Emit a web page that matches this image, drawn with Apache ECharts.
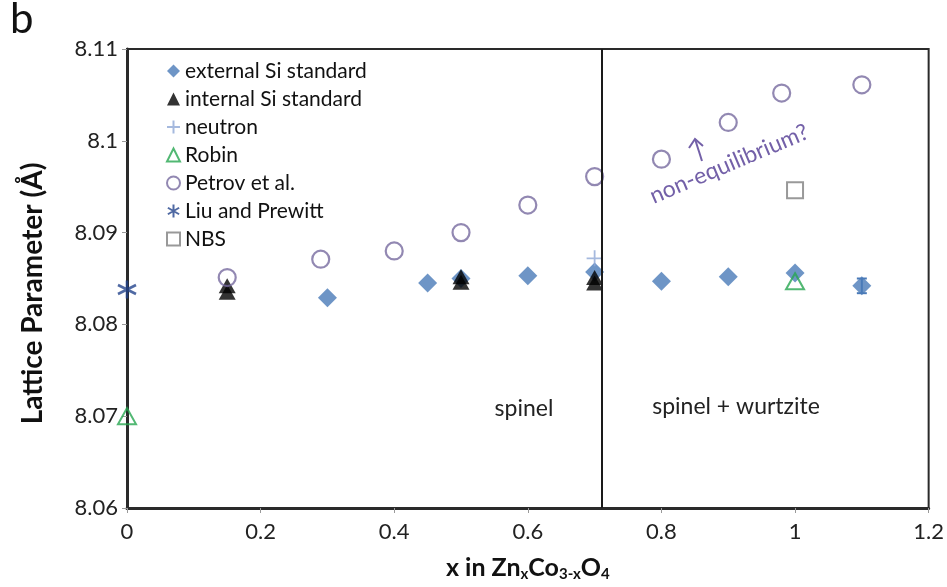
<!DOCTYPE html>
<html>
<head>
<meta charset="utf-8">
<script src="https://cdn.jsdelivr.net/npm/echarts@6/dist/echarts.min.js"></script>
<style>html,body{margin:0;padding:0;background:#fff}#c{width:947px;height:587px}</style>
</head>
<body>
<div id="c"></div>
<script>
// ---- data ----
const externalSi = [[0.3,8.0829],[0.45,8.0845],[0.5,8.0850],[0.6,8.0853],[0.7,8.0857],[0.8,8.0847],[0.9,8.0852],[1.0,8.0856],[1.1,8.0842]];
const externalSiErr = [[1.1,8.0834,8.0850]];
const internalSi = [[0.15,8.0842],[0.15,8.0835],[0.5,8.0852],[0.5,8.0846],[0.7,8.0851],[0.7,8.0845]];
const neutron = [[0.7,8.0872]];
const robin = [[0,8.0700],[1.0,8.0847]];
const petrov = [[0.15,8.0851],[0.29,8.0871],[0.4,8.0880],[0.5,8.0900],[0.6,8.0930],[0.7,8.0961],[0.8,8.0980],[0.9,8.1020],[0.98,8.1052],[1.1,8.1061]];
const liuPrewitt = [[0,8.0838]];
const nbs = [[1.0,8.0946]];
const phaseBoundary = 0.715;
const xTicks = [0,0.2,0.4,0.6,0.8,1,1.2];
const yTicks = [8.06,8.07,8.08,8.09,8.1,8.11];

const FONT = 'Lato';
const plusPath = 'path://M0,5L10,5M5,0L5,10';
const starPath = 'path://M5,0L5,10M0.67,2.5L9.33,7.5M0.67,7.5L9.33,2.5';

const chart = echarts.init(document.getElementById('c'), null, {renderer:'canvas'});
const option = {
  backgroundColor:'#fff',
  animation:false,
  grid:{left:127,right:18,top:49,bottom:78,show:true,borderColor:'#2a2a2a',borderWidth:2,backgroundColor:'transparent'},
  legend:{
    orient:'vertical', left:161, top:55, itemGap:6, itemWidth:13, itemHeight:13,
    textStyle:{fontFamily:FONT,fontSize:21,color:'#111',lineHeight:22},
    data:['external Si standard','internal Si standard','neutron','Robin','Petrov et al.','Liu and Prewitt','NBS']
  },
  xAxis:{
    type:'value', min:0, max:1.2, interval:0.2,
    name:'x in Zn{s|x}Co{s|3-x}O{s|4}', nameLocation:'middle', nameGap:45,
    nameTextStyle:{fontFamily:FONT,fontSize:25,fontWeight:'bold',color:'#111',
      rich:{s:{fontFamily:FONT,fontSize:15,fontWeight:'bold',color:'#111',verticalAlign:'bottom',padding:[14,0,0,0]}}},
    axisLine:{show:true,lineStyle:{color:'#2a2a2a',width:3}},
    axisTick:{show:true,length:5,lineStyle:{color:'#999',width:1}},
    splitLine:{show:false},
    axisLabel:{fontFamily:FONT,fontSize:22,color:'#222',margin:13,
      formatter:v=>{const t=xTicks.find(k=>Math.abs(k-v)<1e-9);return t===undefined?'':String(t);}}
  },
  yAxis:{
    type:'value', min:8.06, max:8.11, interval:0.01,
    name:'Lattice Parameter (Å)', nameLocation:'middle', nameGap:80, nameRotate:90,
    nameTextStyle:{fontFamily:FONT,fontSize:28,fontWeight:'bold',color:'#111',padding:[0,30,0,0]},
    axisLine:{show:true,lineStyle:{color:'#2a2a2a',width:3}},
    axisTick:{show:true,length:5,lineStyle:{color:'#999',width:1}},
    splitLine:{show:false},
    axisLabel:{fontFamily:FONT,fontSize:22,color:'#222',margin:9,
      formatter:v=>{const t=yTicks.find(k=>Math.abs(k-v)<1e-9);return t===undefined?'':String(t);}}
  },
  series:[
    {name:'external Si standard',type:'scatter',data:externalSi,symbol:'diamond',symbolSize:[19,19],
      itemStyle:{color:'#4a7ab8'},z:2,
      markLine:{silent:true,symbol:['none','none'],label:{show:false},
        lineStyle:{color:'#1a1a1a',width:2,type:'solid'},data:[{xAxis:phaseBoundary}]}},
    {name:'external Si standard',type:'custom',data:externalSiErr,z:2,
      renderItem:(params,api)=>{
        const x=api.value(0), lo=api.coord([x,api.value(1)]), hi=api.coord([x,api.value(2)]);
        const w=5;
        return {type:'group',children:[
          {type:'line',shape:{x1:lo[0],y1:lo[1],x2:hi[0],y2:hi[1]},style:{stroke:'#4a7ab8',lineWidth:2}},
          {type:'line',shape:{x1:lo[0]-w,y1:lo[1],x2:lo[0]+w,y2:lo[1]},style:{stroke:'#4a7ab8',lineWidth:2}},
          {type:'line',shape:{x1:hi[0]-w,y1:hi[1],x2:hi[0]+w,y2:hi[1]},style:{stroke:'#4a7ab8',lineWidth:2}}
        ]};
      }},
    {name:'internal Si standard',type:'scatter',data:internalSi,symbol:'triangle',symbolSize:[17,15],
      itemStyle:{color:'#000'},z:3},
    {name:'neutron',type:'scatter',data:neutron,symbol:plusPath,symbolSize:16,
      itemStyle:{color:'transparent',borderColor:'#8ea8d6',borderWidth:1.8},z:3},
    {name:'Robin',type:'scatter',data:robin,symbol:'triangle',symbolSize:[18,16],
      itemStyle:{color:'transparent',borderColor:'#27a650',borderWidth:2},z:3},
    {name:'Petrov et al.',type:'scatter',data:petrov,symbol:'circle',symbolSize:17,
      itemStyle:{color:'transparent',borderColor:'#776a9f',borderWidth:2.2},z:3},
    {name:'Liu and Prewitt',type:'scatter',data:liuPrewitt,symbol:starPath,symbolSize:18,
      itemStyle:{color:'transparent',borderColor:'#23438c',borderWidth:2.6},z:4},
    {name:'NBS',type:'scatter',data:nbs,symbol:'rect',symbolSize:16,
      itemStyle:{color:'transparent',borderColor:'#808080',borderWidth:2},z:3}
  ],
  graphic:[
    {type:'text',left:10,top:-2,style:{text:'b',fontFamily:FONT,fontSize:42,fill:'#111'}},
    {type:'text',x:524,y:409,style:{text:'spinel',fontFamily:FONT,fontSize:23,fill:'#222',align:'center',verticalAlign:'middle'}},
    {type:'text',x:736,y:407,style:{text:'spinel + wurtzite',fontFamily:FONT,fontSize:23,fill:'#222',align:'center',verticalAlign:'middle'}},
    {type:'text',x:729,y:164,rotation:0.4,style:{text:'non-equilibrium?',fontFamily:FONT,fontSize:23,fill:'#7360a8',align:'center',verticalAlign:'middle'}},
    {type:'polyline',shape:{points:[[702,161],[695,139]]},style:{stroke:'#7360a8',lineWidth:2,fill:null}},
    {type:'polyline',shape:{points:[[689,148],[695,139],[703,146]]},style:{stroke:'#7360a8',lineWidth:2,fill:null}}
  ]
};
chart.setOption(option);
</script>
</body>
</html>
